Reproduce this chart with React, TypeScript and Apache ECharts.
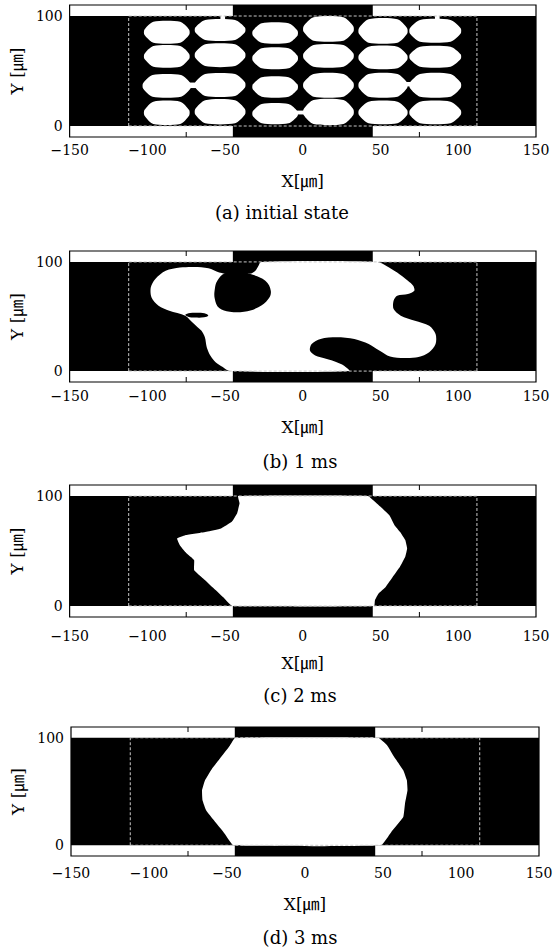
import React, { useEffect, useRef } from "react";
import * as echarts from "echarts";

// ---- axes ----
const X_MIN = -150;
const X_MAX = 150;
const X_STEP = 50;
const Y_MIN = -10;
const Y_MAX = 110;
const Y_STEP = 10;
const Y_LABEL_VALUES = [0, 100];
const X_MARK_VALUES = [-75, 75];

// ---- geometry of the channel (µm) ----
const CHANNEL_Y = [0, 100];
const ELECTRODE_X = [-45, 45];
const DASH_X = [-112, 112];

const CAPTIONS = ["(a) initial state", "(b) 1 ms", "(c) 2 ms", "(d) 3 ms"];
const X_TITLE = "X[㎛]";
const Y_TITLE = "Y [㎛]";

// ---- (a) initial droplets: [centre x, centre y, width, height] ----
const DROPS_A = [
  [-87.5, 85.2, 28.8, 19.1], [-53.2, 87.3, 32, 18.2], [-17.8, 84.5, 28.8, 17.7],
  [16.5, 88.2, 32, 21.3], [51.6, 86.4, 31, 21.3], [85.2, 86.5, 32.7, 19.8],
  [-87.5, 63.3, 28.8, 18.8], [-53.2, 64.4, 32, 19.8], [-17.8, 61.6, 28.8, 18.1],
  [16.5, 63.8, 32, 19.7], [51.6, 62.3, 31, 19.6], [85.2, 63, 32.7, 18.2],
  [-87.5, 36.5, 30.5, 19.8], [-53.2, 37.3, 32, 20], [-17.8, 35.5, 28.8, 17.7],
  [16.5, 37, 32, 20.7], [51.6, 37, 31, 20.7], [85.2, 37, 32.7, 20.7],
  [-87.5, 12, 28.8, 20.3], [-53.2, 13, 32, 21], [-17.8, 11.2, 28.8, 17.5],
  [16.5, 12.7, 32, 21.8], [51.6, 12.3, 31, 19.6], [85.2, 12.3, 32.7, 19.6],
];
// necks / bridges between droplets: [x0, y0, x1, y1]
const NECKS_A = [
  [-74, 34.5, -68, 39.5],
  [66, 36, 70.5, 40],
  [-5, 10.5, 1.5, 14],
  [-53, 95, -50, 100.5],
  [85, 95, 88, 100.5],
];

// ---- (b) 1 ms ----
const SHAPE_B = [
  [-26.8, 100], [48.1, 100], [53.8, 96.3], [60.7, 90.3], [67.6, 82.7], [71.0, 78.1],
  [71.7, 73.5], [67.6, 70.5], [60.7, 69.0], [58.4, 64.4], [58.4, 56.8], [63.0, 50.8],
  [72.1, 46.2], [81.3, 41.6], [85.4, 34.0], [85.4, 24.9], [81.3, 17.3], [74.4, 12.8],
  [65.3, 11.9], [56.1, 13.4], [49.2, 18.9], [42.4, 24.9], [33.2, 29.5], [21.8, 31.0],
  [11.4, 29.5], [5.7, 24.9], [4.6, 18.9], [8.0, 14.3], [14.9, 11.3], [21.8, 8.2],
  [26.3, 5.2], [29.8, 0], [-47.0, 0], [-51.5, 3.7], [-56.1, 8.2], [-59.5, 14.3],
  [-61.8, 21.9], [-63.0, 31.0], [-65.3, 37.1], [-68.7, 41.6], [-72.1, 46.2],
  [-75.6, 50.8], [-85.9, 55.3], [-92.8, 59.9], [-97.3, 67.5], [-97.8, 76.6],
  [-95.0, 84.2], [-88.2, 91.8], [-79.0, 94.8], [-69.9, 95.4], [-60.7, 94.2],
  [-53.8, 90.3], [-47.0, 88.7], [-35.5, 89.3], [-33.2, 89.3], [-30.5, 91.8],
  [-28.6, 96.3],
];
const HOLE_B = [
  [-55.0, 82.7], [-50.4, 89.3], [-42.4, 91.2], [-33.2, 88.7], [-24.1, 82.7],
  [-20.6, 73.5], [-22.2, 66.0], [-28.6, 58.4], [-37.8, 54.4], [-47.0, 54.4],
  [-53.8, 57.7], [-56.6, 66.0], [-56.6, 75.1],
];
const SPOT_B = [
  [-75.6, 51.5], [-72.5, 53.2], [-67, 53.4], [-62, 52.4], [-60.8, 50.6],
  [-63.5, 49.2], [-69.5, 49.0], [-73.8, 49.8],
];

// ---- (c) 2 ms ----
const SHAPE_C = [
  [-41.6, 100], [41.8, 100], [48.7, 91.8], [55.6, 82.7], [59.0, 73.5], [62.5, 67.5],
  [65.9, 59.9], [67.1, 52.3], [65.9, 44.7], [62.5, 35.6], [57.9, 26.5], [53.3, 17.3],
  [48.7, 11.3], [46.4, 5.2], [45.9, 0], [-45.3, 0], [-50.3, 6.7], [-57.2, 15.8],
  [-64.1, 24.9], [-69.9, 32.5], [-69.9, 41.6], [-72.2, 44.7], [-75.6, 49.2],
  [-79.1, 55.3], [-80.9, 61.4], [-75.6, 64.4], [-61.8, 67.5], [-52.6, 70.5],
  [-45.7, 76.6], [-42.3, 84.2], [-40.7, 93.3],
];

// ---- (d) 3 ms ----
const SHAPE_D = [
  [-44.7, 100], [46.9, 100], [52.7, 92.9], [57.2, 82.1], [63.0, 69.7], [65.3, 60.4],
  [65.7, 51.1], [64.1, 38.7], [63.0, 26.3], [56.1, 13.9], [48.8, 0], [-45.8, 0],
  [-51.5, 10.8], [-58.4, 23.2], [-63.4, 32.5], [-65.7, 41.8], [-66.0, 51.1],
  [-64.1, 60.4], [-59.6, 71.2], [-53.8, 82.1], [-48.1, 92.9],
];

// ---- layout (pixels) ----
const LAYOUT = [
  { grid: { left: 68, right: 24, top: 5, height: 132 }, labelMargin: 6, nameGap: 35, cap: [282, 212] },
  { grid: { left: 68, right: 24, top: 251, height: 131 }, labelMargin: 7, nameGap: 36, cap: [300, 461] },
  { grid: { left: 69, right: 24, top: 485, height: 132 }, labelMargin: 12, nameGap: 37, cap: [300, 695] },
  { grid: { left: 71, right: 21, top: 727, height: 129 }, labelMargin: 10, nameGap: 39, cap: [300, 937] },
];

const SERIF = '"DejaVu Serif", "Liberation Serif", "Noto Sans CJK JP", serif';

function coordRect(api: any, x0: number, y0: number, x1: number, y1: number) {
  const a = api.coord([x0, y1]);
  const b = api.coord([x1, y0]);
  return { x: a[0], y: a[1], width: b[0] - a[0], height: b[1] - a[1] };
}

function buildOption() {
  const grid: any[] = [];
  const xAxis: any[] = [];
  const yAxis: any[] = [];
  const series: any[] = [];
  const graphic: any[] = [];

  LAYOUT.forEach((L, i) => {
    grid.push({ ...L.grid });
    xAxis.push({
      gridIndex: i, type: "value", min: X_MIN, max: X_MAX, interval: X_STEP, position: "bottom",
      axisLine: { show: false }, splitLine: { show: false }, axisTick: { show: false },
      axisLabel: {
        margin: L.labelMargin, fontSize: 14, fontFamily: SERIF, color: "#000",
        formatter: (v: number) => String(v).replace("-", "\u2212"),
      },
      name: X_TITLE, nameLocation: "middle", nameGap: L.nameGap,
      nameTextStyle: { fontSize: 17, fontFamily: SERIF, color: "#000" },
    });
    yAxis.push({
      gridIndex: i, type: "value", min: Y_MIN, max: Y_MAX, interval: Y_STEP,
      axisLine: { show: false }, splitLine: { show: false }, axisTick: { show: false },
      axisLabel: {
        margin: 7, fontSize: 14, fontFamily: SERIF, color: "#000",
        formatter: (v: number) => (Y_LABEL_VALUES.indexOf(v) >= 0 ? String(v) : ""),
      },
      name: Y_TITLE, nameLocation: "middle", nameGap: 25, nameRotate: 90,
      nameTextStyle: { fontSize: 17, fontFamily: SERIF, color: "#000" },
    });

    const base = { type: "custom", coordinateSystem: "cartesian2d", xAxisIndex: i, yAxisIndex: i, silent: true };

    // background: black channel and electrodes, white insulating strips
    series.push({
      ...base, data: [[0, 0]],
      renderItem: (_p: any, api: any) => {
        const rects = [
          [X_MIN, CHANNEL_Y[1], ELECTRODE_X[0], Y_MAX],
          [ELECTRODE_X[1], CHANNEL_Y[1], X_MAX, Y_MAX],
          [X_MIN, Y_MIN, ELECTRODE_X[0], CHANNEL_Y[0]],
          [ELECTRODE_X[1], Y_MIN, X_MAX, CHANNEL_Y[0]],
        ];
        return {
          type: "group",
          children: [
            { type: "rect", shape: coordRect(api, X_MIN, Y_MIN, X_MAX, Y_MAX), style: { fill: "#000" } },
            ...rects.map((r) => ({ type: "rect", shape: coordRect(api, r[0], r[1], r[2], r[3]), style: { fill: "#fff" } })),
          ],
        };
      },
    });

    const polySeries = (shapes: number[][][], fill: string, smooth: number) => ({
      ...base, data: shapes.map(() => [0, 50]),
      renderItem: (p: any, api: any) => {
        const pts = (shapes[p.dataIndex] || []).map((pt) => api.coord(pt));
        return { type: "polygon", shape: { points: pts, smooth }, style: { fill } };
      },
    });

    if (i === 0) {
      series.push({
        ...base, data: DROPS_A,
        renderItem: (_p: any, api: any) => {
          const cx = api.value(0), cy = api.value(1), w = api.value(2), h = api.value(3);
          const hw = w / 2, hh = h / 2, c = 0.2 * w, s = 0.12 * h;
          const pts = [
            [cx - hw, cy - s], [cx - hw, cy + s], [cx - hw + c, cy + hh], [cx + hw - c, cy + hh],
            [cx + hw, cy + s], [cx + hw, cy - s], [cx + hw - c, cy - hh], [cx - hw + c, cy - hh],
          ].map((q) => api.coord(q));
          return { type: "polygon", shape: { points: pts, smooth: 0.25 }, style: { fill: "#fff" } };
        },
      });
      series.push({
        ...base, data: NECKS_A,
        renderItem: (_p: any, api: any) => ({
          type: "rect",
          shape: coordRect(api, api.value(0), api.value(1), api.value(2), api.value(3)),
          style: { fill: "#fff" },
        }),
      });
    } else if (i === 1) {
      series.push(polySeries([SHAPE_B], "#fff", 0.3));
      series.push(polySeries([HOLE_B, SPOT_B], "#000", 0.4));
    } else if (i === 2) {
      series.push(polySeries([SHAPE_C], "#fff", 0.1));
    } else {
      series.push(polySeries([SHAPE_D], "#fff", 0.1));
    }

    // dashed outline of the computational region, frame and tick marks
    series.push({
      ...base, data: [[0, 0]],
      renderItem: (_p: any, api: any) => {
        const segs = [
          [DASH_X[0], CHANNEL_Y[0], DASH_X[1], CHANNEL_Y[0]],
          [DASH_X[0], CHANNEL_Y[1], DASH_X[1], CHANNEL_Y[1]],
          [DASH_X[0], CHANNEL_Y[0], DASH_X[0], CHANNEL_Y[1]],
          [DASH_X[1], CHANNEL_Y[0], DASH_X[1], CHANNEL_Y[1]],
        ];
        const children: any[] = segs.map((s) => {
          const a = api.coord([s[0], s[1]]);
          const b = api.coord([s[2], s[3]]);
          return {
            type: "line",
            shape: { x1: a[0], y1: a[1], x2: b[0], y2: b[1] },
            style: { stroke: "#c8c8c8", lineWidth: 1, lineDash: [3, 2] },
          };
        });
        X_MARK_VALUES.forEach((v) => {
          const b = api.coord([v, Y_MIN]);
          const t = api.coord([v, Y_MAX]);
          children.push({ type: "line", shape: { x1: b[0], y1: b[1], x2: b[0], y2: b[1] - 5 }, style: { stroke: "#000", lineWidth: 1 } });
          children.push({ type: "line", shape: { x1: t[0], y1: t[1], x2: t[0], y2: t[1] + 5 }, style: { stroke: "#000", lineWidth: 1 } });
        });
        children.push({
          type: "rect",
          shape: coordRect(api, X_MIN, Y_MIN, X_MAX, Y_MAX),
          style: { fill: "none", stroke: "#000", lineWidth: 1.2 },
        });
        return { type: "group", children };
      },
    });

    graphic.push({
      type: "text", x: L.cap[0], y: L.cap[1], silent: true,
      style: { text: CAPTIONS[i], fontSize: 18, fontFamily: SERIF, fill: "#000", align: "center", verticalAlign: "middle" },
    });
  });

  return { animation: false, backgroundColor: "#fff", grid, xAxis, yAxis, series, graphic };
}

export default function App() {
  const ref = useRef<HTMLDivElement>(null);
  useEffect(() => {
    if (!ref.current) return;
    const chart = echarts.init(ref.current, undefined, { renderer: "svg" });
    chart.setOption(buildOption() as any);
    return () => chart.dispose();
  }, []);
  return (
    <div
      ref={ref}
      style={{ position: "fixed", left: 0, top: 0, width: 560, height: 950, background: "#fff" }}
    />
  );
}
